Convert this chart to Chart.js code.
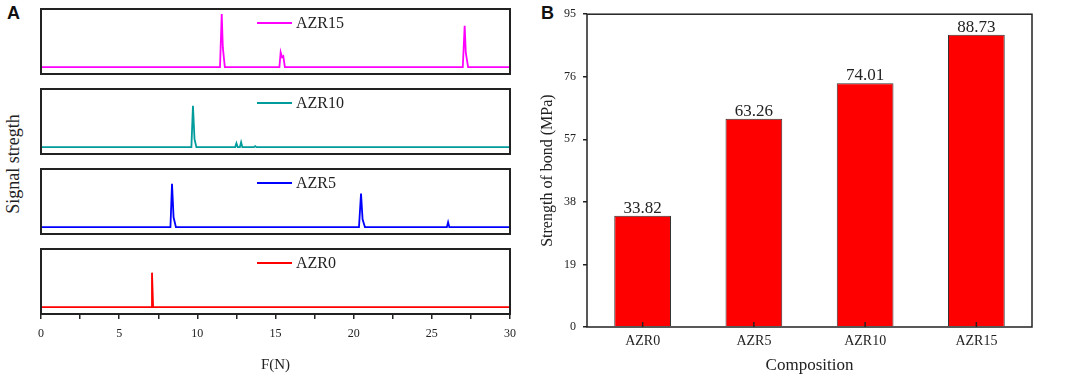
<!DOCTYPE html>
<html>
<head>
<meta charset="utf-8">
<script src="https://cdn.jsdelivr.net/npm/chart.js@4.4.1/dist/chart.umd.min.js"></script>
<style>
  body { margin: 0; background: #fff; width: 1072px; height: 376px; position: relative; overflow: hidden; }
  .box { position: absolute; }
  .tag { position: absolute; font-family: "Liberation Sans", Arial, sans-serif; font-weight: bold; font-size: 18px; color: #111; }
  .ylab { position: absolute; font-family: "Liberation Serif", serif; font-size: 18px; color: #222; white-space: nowrap;
          transform: translate(-50%, -50%) rotate(-90deg); }
</style>
</head>
<body>
<div class="tag" style="left:7px; top:3px;">A</div>
<div class="tag" style="left:541px; top:3px;">B</div>
<div class="ylab" style="left:13px; top:164px;">Signal stregth</div>

<div class="box" style="left:39px; top:7px; width:473px; height:69px;"><canvas id="c15"></canvas></div>
<div class="box" style="left:39px; top:87px; width:473px; height:69px;"><canvas id="c10"></canvas></div>
<div class="box" style="left:39px; top:167px; width:473px; height:69px;"><canvas id="c5"></canvas></div>
<div class="box" style="left:19px; top:247px; width:513px; height:129px;"><canvas id="c0"></canvas></div>
<div class="box" style="left:520px; top:0px; width:552px; height:376px;"><canvas id="bond"></canvas></div>

<script>
// panel A : signal vs force, one series per composition
var azr15X = [0, 11.45, 11.56, 11.63, 11.76, 15.25, 15.33, 15.42, 15.5, 15.6, 26.98, 27.1, 27.17, 27.32, 30];
var azr15Y = [0, 0, 54, 20, 0, 0, 15, 10, 11, 0, 0, 42, 15, 0, 0];
var azr10X = [0, 9.62, 9.72, 9.82, 9.94, 12.42, 12.5, 12.58, 12.72, 12.8, 12.88, 13.62, 13.7, 13.78, 30];
var azr10Y = [0, 0, 42, 8, 0, 0, 4, 0, 0, 5, 0, 0, 1, 0, 0];
var azr5X = [0, 8.28, 8.38, 8.48, 8.63, 20.34, 20.47, 20.57, 20.72, 25.96, 26.04, 26.12, 30];
var azr5Y = [0, 0, 44, 10, 0, 0, 34, 8, 0, 0, 5, 0, 0];
var azr0X = [0, 7.04, 7.1, 7.17, 30];
var azr0Y = [0, 0, 35, 0, 0];

// panel B : bond strength
var compositions = ['AZR0', 'AZR5', 'AZR10', 'AZR15'];
var bondStrength = [33.82, 63.26, 74.01, 88.73];
var bondTicks = [0, 19, 38, 57, 76, 95];

var serif = '"Liberation Serif", "Times New Roman", serif';
var ink = '#222';

function toPoints(xs, ys) {
    return xs.map(function (x, i) { return { x: x, y: ys[i] }; });
}

var framePlugin = {
    id: 'frame',
    afterDraw: function (chart, args, opts) {
        var a = chart.chartArea, ctx = chart.ctx;
        ctx.save();
        ctx.lineWidth = opts.width || 2;
        ctx.strokeStyle = opts.color || ink;
        ctx.strokeRect(a.left, a.top, a.right - a.left, a.bottom - a.top);
        ctx.restore();
    }
};

// little legend inside the frame: line then label
var tagPlugin = {
    id: 'tag',
    afterDraw: function (chart) {
        var a = chart.chartArea, ctx = chart.ctx;
        var ds = chart.data.datasets[0];
        var y = a.top + 14;
        ctx.save();
        ctx.strokeStyle = ds.borderColor;
        ctx.lineWidth = 2;
        ctx.beginPath();
        ctx.moveTo(a.left + 216, y);
        ctx.lineTo(a.left + 251, y);
        ctx.stroke();
        ctx.fillStyle = ink;
        ctx.font = '16px ' + serif;
        ctx.textBaseline = 'middle';
        ctx.fillText(ds.label, a.left + 255, y + 1);
        ctx.restore();
    }
};

function signalChart(id, label, color, xs, ys, showAxis) {
    return new Chart(document.getElementById(id), {
        type: 'line',
        data: {
            datasets: [{
                label: label,
                data: toPoints(xs, ys),
                borderColor: color,
                borderWidth: 1.8,
                pointRadius: 0,
                tension: 0
            }]
        },
        options: {
            responsive: true,
            maintainAspectRatio: false,
            animation: false,
            layout: { padding: showAxis ? { left: 22, right: 22, top: 2, bottom: 0 } : 2 },
            plugins: { legend: { display: false }, tooltip: { enabled: false }, frame: { width: 2 } },
            scales: {
                x: {
                    type: 'linear',
                    min: 0,
                    max: 30,
                    display: showAxis,
                    border: { display: false },
                    grid: { drawOnChartArea: false, tickLength: 5, color: ink, lineWidth: 1.5 },
                    ticks: {
                        stepSize: 2.5,
                        padding: 8,
                        color: ink,
                        font: { family: serif, size: 12 },
                        maxRotation: 0,
                        callback: function (v) { return v % 5 === 0 ? v : ''; }
                    },
                    title: { display: showAxis, text: 'F(N)', color: ink, font: { family: serif, size: 15 }, padding: { top: 0, bottom: 2 } },
                    afterFit: function (s) { if (showAxis) s.height = 62; }
                },
                y: { min: -7, max: 59, display: false }
            }
        },
        plugins: [framePlugin, tagPlugin]
    });
}

signalChart('c15', 'AZR15', '#ff00ff', azr15X, azr15Y, false);
signalChart('c10', 'AZR10', '#009b9b', azr10X, azr10Y, false);
signalChart('c5', 'AZR5', '#0000ff', azr5X, azr5Y, false);
signalChart('c0', 'AZR0', '#ff0000', azr0X, azr0Y, true);

// values above bars and inward x ticks
var barExtras = {
    id: 'barExtras',
    afterDatasetsDraw: function (chart) {
        var ctx = chart.ctx, xs = chart.scales.x;
        var meta = chart.getDatasetMeta(0);
        ctx.save();
        ctx.strokeStyle = ink;
        ctx.lineWidth = 1.5;
        xs.ticks.forEach(function (t, i) {
            var x = xs.getPixelForTick(i);
            ctx.beginPath();
            ctx.moveTo(x, xs.top);
            ctx.lineTo(x, xs.top - 5);
            ctx.stroke();
        });
        ctx.fillStyle = ink;
        ctx.font = '17px ' + serif;
        ctx.textAlign = 'center';
        ctx.textBaseline = 'alphabetic';
        meta.data.forEach(function (bar, i) {
            ctx.fillText(bondStrength[i].toFixed(2), bar.x, bar.y - 3);
        });
        ctx.restore();
    }
};

new Chart(document.getElementById('bond'), {
    type: 'bar',
    data: {
        labels: compositions,
        datasets: [{
            data: bondStrength,
            backgroundColor: '#ff0000',
            borderColor: '#333',
            borderWidth: 1,
            categoryPercentage: 1,
            barPercentage: 0.51
        }]
    },
    options: {
        responsive: true,
        maintainAspectRatio: false,
        animation: false,
        layout: { padding: { top: 8, right: 40, left: 0, bottom: 0 } },
        plugins: { legend: { display: false }, tooltip: { enabled: false }, frame: { width: 1.5 } },
        scales: {
            x: {
                border: { display: false },
                grid: { display: false, drawTicks: false },
                ticks: { color: ink, padding: 6, font: { family: serif, size: 14 } },
                title: { display: true, text: 'Composition', color: ink, font: { family: serif, size: 17 }, padding: { top: 0, bottom: 0 } },
                afterFit: function (s) { s.height = 49; }
            },
            y: {
                min: 0,
                max: 95,
                border: { display: false },
                grid: { drawOnChartArea: false, tickLength: 4, color: ink, lineWidth: 1.5 },
                afterBuildTicks: function (s) { s.ticks = bondTicks.map(function (v) { return { value: v }; }); },
                ticks: { color: ink, padding: 7, font: { family: serif, size: 12 } },
                title: { display: true, text: 'Strength of bond (MPa)', color: ink, font: { family: serif, size: 16 }, padding: { top: 18, bottom: 0 } },
                afterFit: function (s) { s.width = 67; }
            }
        }
    },
    plugins: [framePlugin, barExtras]
});
</script>
</body>
</html>
